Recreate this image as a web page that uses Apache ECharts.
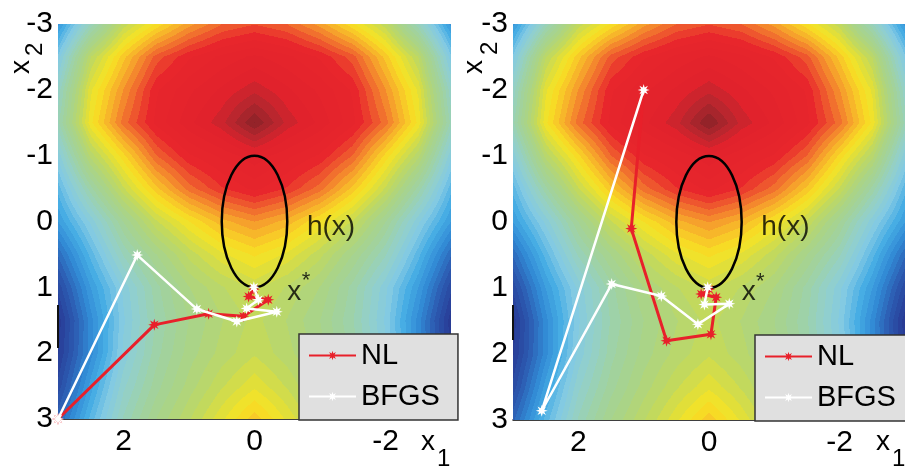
<!DOCTYPE html>
<html><head><meta charset="utf-8">
<script src="https://cdn.jsdelivr.net/npm/echarts@6.0.0/dist/echarts.min.js"></script>
<style>html,body{margin:0;padding:0;background:#fff}#c{width:905px;height:467px}</style>
</head><body><div id="c"></div>
<script>
// ---------- data ----------
const x1Grid = [-3,-2.5,-2,-1.5,-1,-0.5,0,0.5,1,1.5,2,2.5,3];
const x2Grid = [-3,-2.5,-2,-1.5,-1,-0.5,0,0.5,1,1.5,2,2.5,3];
// objective level (0 = low/blue, 1 = high/dark red), one row per x2Grid value, one column per x1Grid value
const fieldRows = [
  [0.24,0.42,0.57,0.65,0.72,0.77,0.79,0.77,0.72,0.65,0.57,0.42,0.24],
  [0.34,0.56,0.68,0.78,0.83,0.86,0.88,0.86,0.83,0.78,0.68,0.56,0.34],
  [0.40,0.62,0.73,0.83,0.87,0.90,0.93,0.90,0.87,0.83,0.73,0.62,0.40],
  [0.43,0.64,0.76,0.84,0.89,0.93,1.00,0.93,0.89,0.84,0.76,0.64,0.43],
  [0.36,0.55,0.66,0.77,0.83,0.86,0.89,0.86,0.83,0.77,0.66,0.55,0.36],
  [0.30,0.45,0.58,0.68,0.76,0.81,0.84,0.81,0.76,0.68,0.58,0.45,0.30],
  [0.25,0.36,0.48,0.58,0.645,0.70,0.73,0.70,0.645,0.58,0.48,0.36,0.25],
  [0.17,0.30,0.42,0.50,0.57,0.62,0.65,0.62,0.57,0.50,0.42,0.30,0.17],
  [0.11,0.25,0.36,0.45,0.52,0.56,0.59,0.56,0.52,0.45,0.36,0.25,0.11],
  [0.07,0.22,0.35,0.44,0.50,0.54,0.57,0.54,0.50,0.44,0.35,0.22,0.07],
  [0.08,0.22,0.36,0.45,0.51,0.55,0.58,0.55,0.51,0.45,0.36,0.22,0.08],
  [0.11,0.26,0.39,0.47,0.53,0.58,0.62,0.58,0.53,0.47,0.39,0.26,0.11],
  [0.16,0.30,0.42,0.50,0.56,0.62,0.68,0.62,0.56,0.50,0.42,0.30,0.16]
];
const yTickValues = [-3,-2,-1,0,1,2,3];
const xTickValues = [-2,0,2];
// constraint h(x)=0 : [centre x1, centre x2, half-width x1, half-height x2]
const constraintEllipse = [[0,0,0.5,1]];
const nlLeft   = [[3,3],[1.53,1.57],[0.70,1.40],[0.17,1.44],[-0.21,1.19],[0.09,1.14],[0.01,1.03]];
const bfgsLeft = [[3,3],[1.79,0.51],[0.88,1.33],[0.27,1.52],[-0.34,1.37],[0.12,1.32],[-0.06,1.19],[0.01,1.0]];
const nlRight   = [[1.0,-2.0],[1.19,0.10],[0.65,1.80],[-0.03,1.70],[-0.11,1.14],[0.12,1.09],[0.0,1.02]];
const bfgsRight = [[1.0,-2.0],[2.56,2.86],[1.49,0.94],[0.73,1.12],[0.17,1.55],[-0.31,1.24],[0.07,1.25],[0.02,0.99]];
const seriesNames = ['NL','BFGS'];

// ---------- styling helpers ----------
const FONT = 'Liberation Sans, Arial, Helvetica, sans-serif';
const cmapStops = [
  [0.00,[37,44,128]],[0.08,[40,60,150]],[0.15,[44,92,178]],[0.22,[50,140,214]],
  [0.28,[70,172,228]],[0.34,[130,202,228]],[0.40,[148,208,200]],[0.46,[160,210,160]],
  [0.52,[172,212,130]],[0.57,[192,217,96]],[0.61,[222,222,60]],[0.645,[247,228,36]],
  [0.68,[248,200,40]],[0.72,[246,160,44]],[0.77,[240,100,46]],[0.82,[232,38,44]],
  [0.905,[226,34,44]],[0.95,[184,38,46]],[1.00,[138,34,40]]
];
const NBANDS = 48;
function cmap(v){
  v = Math.max(0, Math.min(1, v));
  v = Math.min(1,(Math.floor(v*NBANDS)+0.5)/NBANDS);
  for (let k=1;k<cmapStops.length;k++){
    if (v<=cmapStops[k][0]){
      const a=cmapStops[k-1], b=cmapStops[k];
      const t=(v-a[0])/(b[0]-a[0]);
      return [0,1,2].map(i=>Math.round(a[1][i]+(b[1][i]-a[1][i])*t));
    }
  }
  return cmapStops[cmapStops.length-1][1];
}
function starPath(){
  const n=8, ro=1, ri=0.45; let s='';
  for (let k=0;k<2*n;k++){
    const r=(k%2===0)?ro:ri, a=Math.PI*k/n - Math.PI/2;
    s += (k===0?'M':'L') + (r*Math.cos(a)).toFixed(3)+' '+(r*Math.sin(a)).toFixed(3)+' ';
  }
  return 'path://'+s+'Z';
}
const STAR = starPath();

// cells of the surface built from the grid arrays
const cells = [];
for (let i=0;i<x2Grid.length-1;i++){
  for (let j=0;j<x1Grid.length-1;j++){
    cells.push([x1Grid[j], x2Grid[i], x1Grid[j+1], x2Grid[i+1],
      fieldRows[i][j], fieldRows[i][j+1], fieldRows[i+1][j], fieldRows[i+1][j+1]]);
  }
}

function renderCell(params, api){
  const p0 = api.coord([api.value(0), api.value(1)]);
  const p1 = api.coord([api.value(2), api.value(3)]);
  const v00=api.value(4), v10=api.value(5), v01=api.value(6), v11=api.value(7);
  const x0=Math.floor(Math.min(p0[0],p1[0])), xe=Math.ceil(Math.max(p0[0],p1[0]));
  const y0=Math.floor(Math.min(p0[1],p1[1])), ye=Math.ceil(Math.max(p0[1],p1[1]));
  const w=xe-x0, h=ye-y0;
  const cv=document.createElement('canvas'); cv.width=w; cv.height=h;
  const ctx=cv.getContext('2d'); const img=ctx.createImageData(w,h);
  for (let b=0;b<h;b++){
    let v=(y0+b+0.5-p0[1])/(p1[1]-p0[1]); v=Math.max(0,Math.min(1,v));
    for (let a=0;a<w;a++){
      let u=(x0+a+0.5-p0[0])/(p1[0]-p0[0]); u=Math.max(0,Math.min(1,u));
      const val=(1-u)*(1-v)*v00+u*(1-v)*v10+(1-u)*v*v01+u*v*v11;
      const c=cmap(val); const o=4*(b*w+a);
      img.data[o]=c[0]; img.data[o+1]=c[1]; img.data[o+2]=c[2]; img.data[o+3]=255;
    }
  }
  ctx.putImageData(img,0,0);
  return {type:'image', style:{image:cv, x:x0, y:y0, width:w, height:h}};
}
function renderEllipse(params, api){
  const cx=api.value(0), cy=api.value(1), rx=api.value(2), ry=api.value(3);
  const c=api.coord([cx,cy]);
  const px=Math.abs(api.coord([cx+rx,cy])[0]-c[0]);
  const py=Math.abs(api.coord([cx,cy+ry])[1]-c[1]);
  return {type:'ellipse', shape:{cx:c[0], cy:c[1], rx:px, ry:py},
          style:{fill:null, stroke:'#000', lineWidth:2.5}};
}

const grids = [
  {left:58, top:24, width:393, height:395},
  {left:513, top:24, width:393, height:396}
];
function xAx(g){ return {gridIndex:g, type:'value', min:-3, max:3, inverse:true,
  axisLine:{show:true, onZero:false, lineStyle:{color:'#000', width:1.5}},
  axisTick:{show:false}, splitLine:{show:false},
  axisLabel:{customValues:xTickValues, fontSize:30, color:'#000', fontFamily:FONT, margin:8}}; }
function yAx(g){ return {gridIndex:g, type:'value', min:-3, max:3, interval:1, inverse:true,
  axisLine:{show:false}, axisTick:{show:false}, splitLine:{show:false},
  axisLabel:{customValues:yTickValues, fontSize:30, color:'#000', fontFamily:FONT, margin:5}}; }

function pathSeries(name, g, data, color, width, z){
  return {name, type:'line', xAxisIndex:g, yAxisIndex:g, data, z,
    symbol:STAR, symbolSize:12, showSymbol:true, animation:false,
    lineStyle:{color, width}, itemStyle:{color}};
}
function annotSeries(g){
  const lab = (t, fs, x1, x2)=>({value:[x1,x2], label:{show:true, formatter:t, fontSize:fs}});
  return {type:'scatter', xAxisIndex:g, yAxisIndex:g, symbolSize:0, z:6, silent:true,
    label:{show:true, position:'right', distance:0, color:'#000', fontFamily:FONT},
    data:[lab('h(x)',28,-0.8,0.085), lab('x',28,-0.5,1.07), lab('*',22,-0.72,0.91)]};
}
function legendCfg(left, top){
  return {left, top, orient:'vertical', data:seriesNames,
    backgroundColor:'#e0e0e0', borderColor:'#333', borderWidth:1.5,
    padding:[7,18,9,9], itemGap:12, itemWidth:47, itemHeight:12,
    textStyle:{fontSize:29, color:'#000', fontFamily:FONT, padding:[0,0,0,0]}};
}

const option = {
  animation:false,
  grid:grids,
  xAxis:[xAx(0), xAx(1)],
  yAxis:[yAx(0), yAx(1)],
  legend:[legendCfg(299,334), legendCfg(755,335)],
  series:[
    {type:'custom', xAxisIndex:0, yAxisIndex:0, data:cells, renderItem:renderCell, clip:true, silent:true, z:1},
    {type:'custom', xAxisIndex:1, yAxisIndex:1, data:cells, renderItem:renderCell, clip:true, silent:true, z:1},
    {type:'custom', xAxisIndex:0, yAxisIndex:0, data:constraintEllipse, renderItem:renderEllipse, silent:true, z:3},
    {type:'custom', xAxisIndex:1, yAxisIndex:1, data:constraintEllipse, renderItem:renderEllipse, silent:true, z:3},
    pathSeries('NL',0,nlLeft,'#e8202a',3,4),
    pathSeries('BFGS',0,bfgsLeft,'#ffffff',2.5,5),
    pathSeries('NL',1,nlRight,'#e8202a',3,4),
    pathSeries('BFGS',1,bfgsRight,'#ffffff',2.5,5),
    annotSeries(0), annotSeries(1)
  ],
  graphic:[
    {type:'text', x:421, y:442, style:{text:'x', font:'28px '+FONT, fill:'#000', textAlign:'left', textVerticalAlign:'middle'}},
    {type:'text', x:437, y:459, style:{text:'1', font:'24px '+FONT, fill:'#000', textAlign:'left', textVerticalAlign:'middle'}},
    {type:'text', x:876, y:442, style:{text:'x', font:'28px '+FONT, fill:'#000', textAlign:'left', textVerticalAlign:'middle'}},
    {type:'text', x:892, y:459, style:{text:'1', font:'24px '+FONT, fill:'#000', textAlign:'left', textVerticalAlign:'middle'}},
    {type:'text', x:21, y:74, rotation:Math.PI/2, style:{text:'x', font:'28px '+FONT, fill:'#000', textAlign:'left', textVerticalAlign:'middle'}},
    {type:'text', x:35, y:56, rotation:Math.PI/2, style:{text:'2', font:'24px '+FONT, fill:'#000', textAlign:'left', textVerticalAlign:'middle'}},
    {type:'text', x:474, y:74, rotation:Math.PI/2, style:{text:'x', font:'28px '+FONT, fill:'#000', textAlign:'left', textVerticalAlign:'middle'}},
    {type:'text', x:490, y:55, rotation:Math.PI/2, style:{text:'2', font:'24px '+FONT, fill:'#000', textAlign:'left', textVerticalAlign:'middle'}},
    {type:'line', shape:{x1:58, y1:305, x2:58, y2:348}, style:{stroke:'#111', lineWidth:2}, z:10},
    {type:'line', shape:{x1:513, y1:305, x2:513, y2:340}, style:{stroke:'#111', lineWidth:2}, z:10}
  ]
};
const chart = echarts.init(document.getElementById('c'), null, {renderer:'canvas'});
chart.setOption(option);
</script>
</body></html>
